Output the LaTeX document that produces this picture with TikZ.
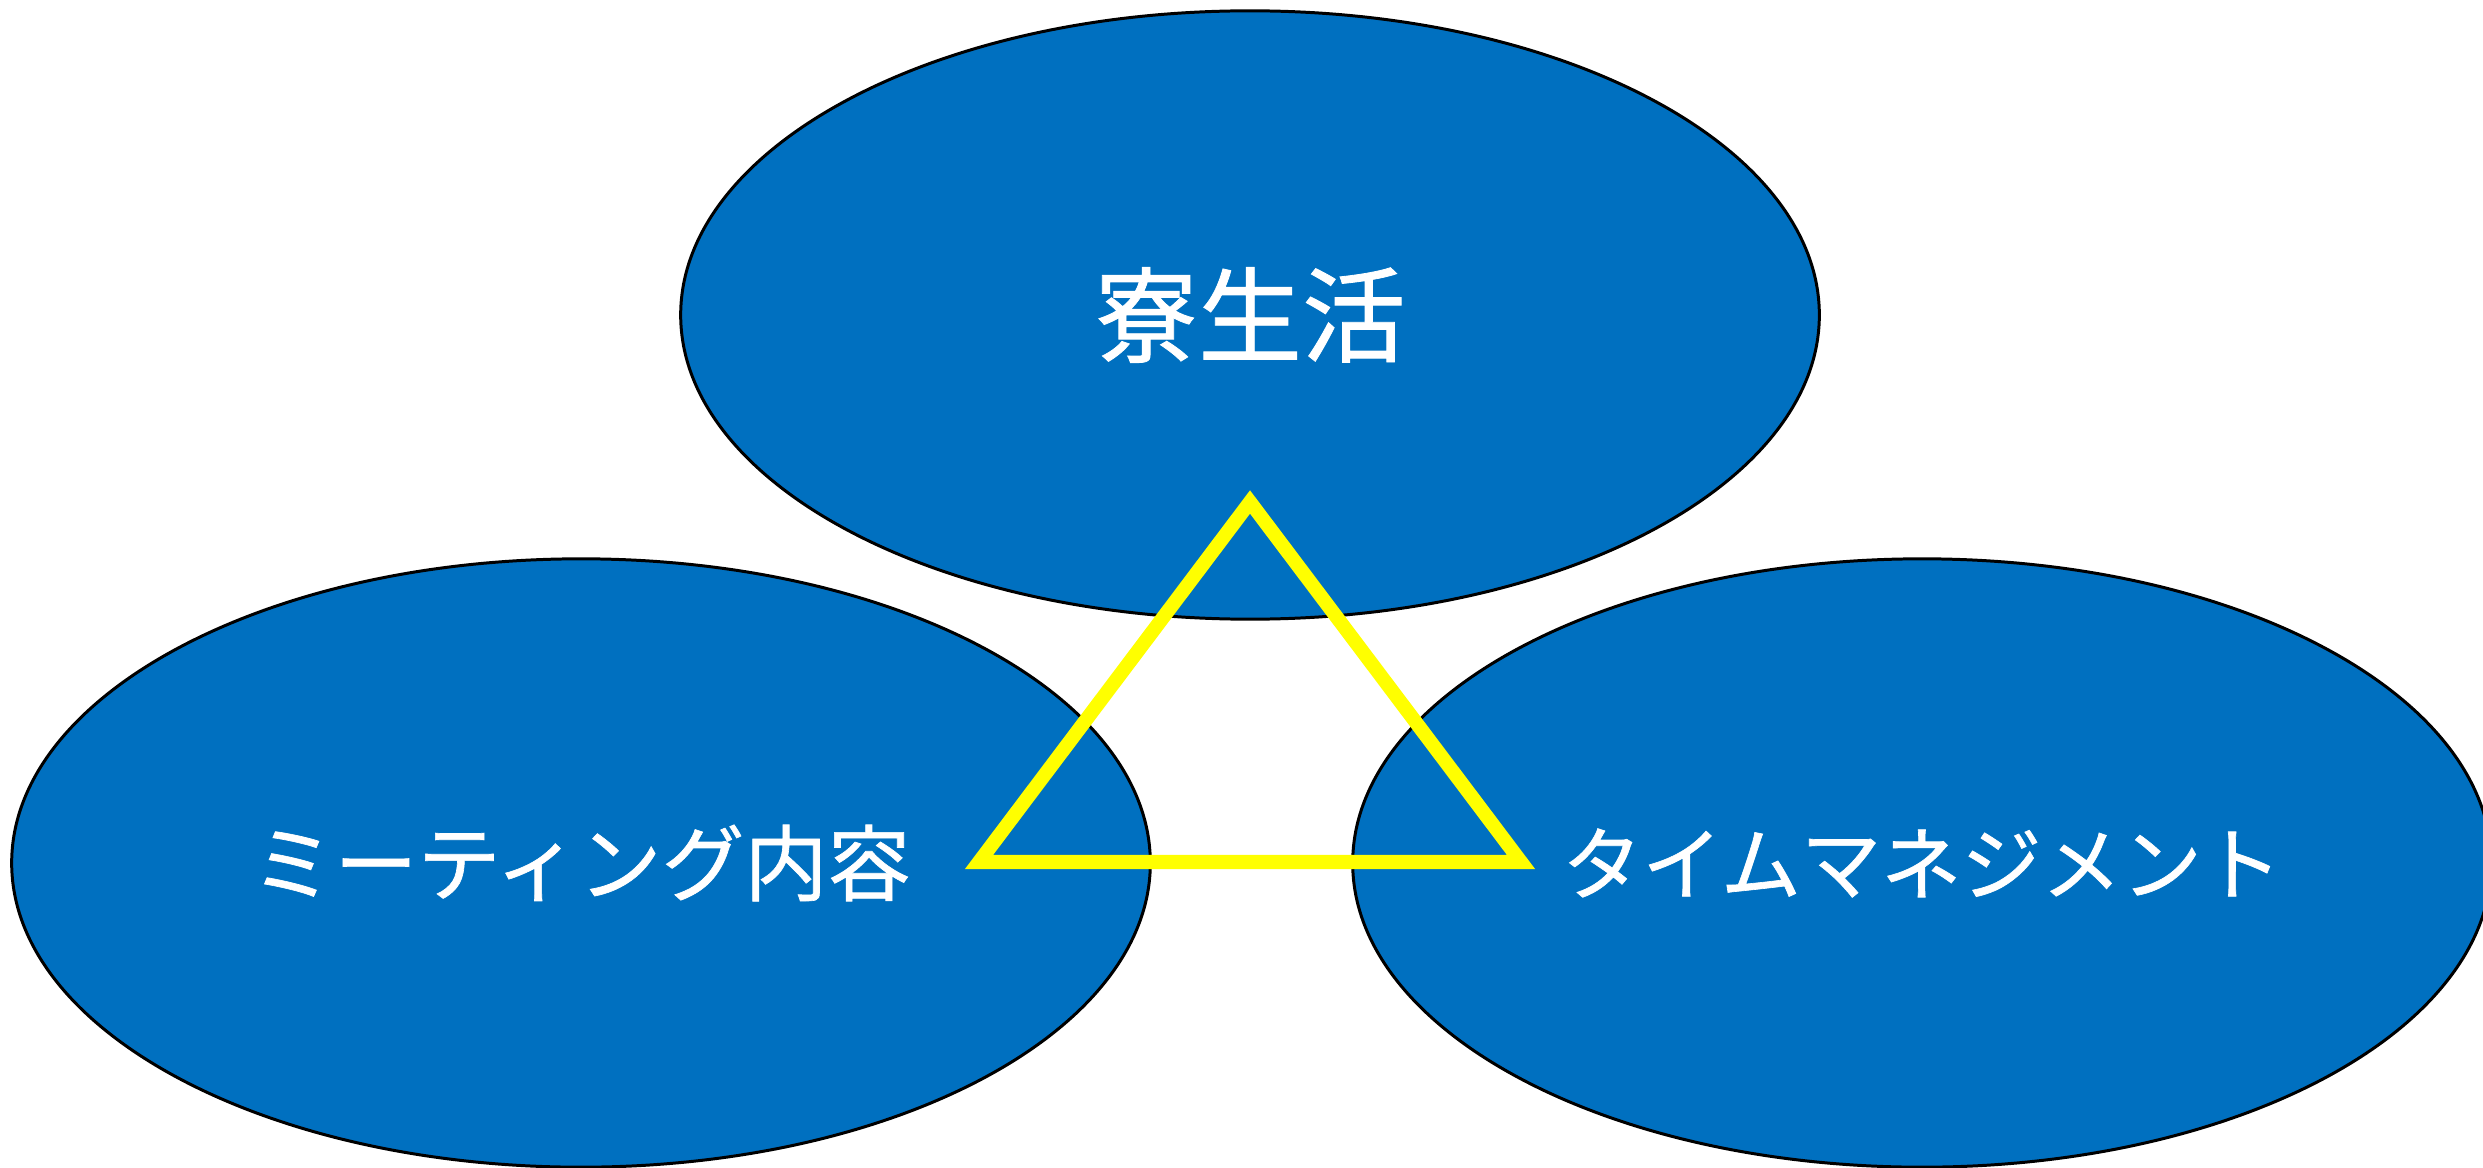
\documentclass[tikz,border=0pt]{standalone}
\usepackage{fontspec}
\newfontfamily\jpfont[FakeBold=0.8]{Noto Sans CJK JP}
\usetikzlibrary{shapes.geometric}
\definecolor{bubble}{HTML}{0070C0}
\definecolor{tri}{HTML}{FFFF00}
\tikzset{
  bubblenode/.style={ellipse, draw=black, line width=0.85pt, fill=bubble,
    minimum width=11.38cm, minimum height=6.08cm, inner sep=0pt,
    text=white, font=\jpfont},
  trianglepath/.style={draw=tri, line width=4pt, line join=miter}
}
\begin{document}
\begin{tikzpicture}[x=0.01cm, y=-0.01cm]
\useasboundingbox (0,0) rectangle (2483,1167);
\clip (0,0) rectangle (2483,1167);
\node[bubblenode] (top) at (1250,315) {};
\node[bubblenode] (left) at (581,863) {};
\node[bubblenode] (right) at (1922,863) {};
\node[text=white, font=\jpfont\fontsize{29.5pt}{30pt}\selectfont] (toplabel) at (top.center) {寮生活};
\node[text=white, font=\jpfont\fontsize{23.6pt}{24pt}\selectfont] (leftlabel) at (left.center) {ミーティング内容};
\node[text=white, font=\jpfont\fontsize{22.8pt}{24pt}\selectfont] (rightlabel) at (right.center) {タイムマネジメント};
\coordinate (apex) at (1250,502);
\coordinate (bl) at (979,862);
\coordinate (br) at (1521,862);
\draw[trianglepath] (apex) -- (br) -- (bl) -- cycle;
\end{tikzpicture}
\end{document}
